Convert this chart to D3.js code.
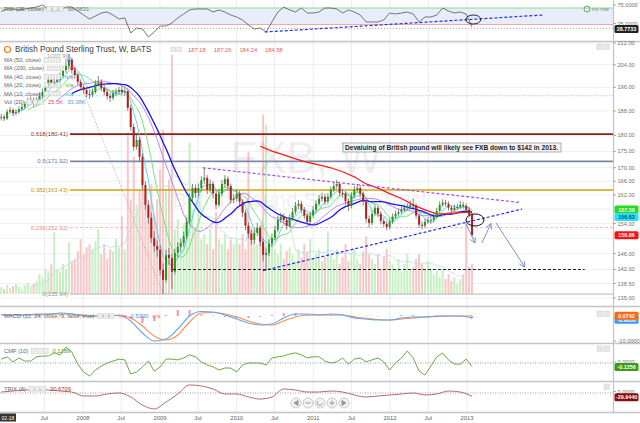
<!DOCTYPE html>
<html>
<head>
<meta charset="utf-8">
<script src="https://cdn.jsdelivr.net/npm/d3@7"></script>
<style>
body { margin: 0; background: #fff; }
svg { display: block; font-family: "Liberation Sans", Arial, sans-serif; }
</style>
</head>
<body>
<div id="chart"></div>
<script>
// ---- data (weekly chart, one bar read every 2 weeks from 8 Dec 2006) ----
var closes = [
 186.0,185.5,187.7,188.3,187.3,187.7,188.6,189.3,190.3,191.3,
 191.7,190.6,191.7,193.0,194.4,196.4,198.6,197.2,197.9,198.6,
 200.0,202.1,203.5,205.7,202.1,200.3,197.9,196.1,195.1,193.7,
 193.4,194.4,197.2,197.9,195.8,194.4,193.0,192.4,194.0,194.4,
 195.1,194.4,194.7,189.0,182.7,176.4,178.6,173.3,164.9,159.2,
 155.6,150.1,148.0,147.0,141.9,139.4,145.7,144.9,141.4,146.2,
 147.8,148.8,150.6,154.5,161.2,164.0,162.6,164.0,166.3,167.0,
 163.5,165.2,162.4,159.2,162.4,165.2,166.7,164.6,160.6,161.0,
 162.4,160.1,157.0,153.4,151.3,149.6,151.5,152.9,149.1,145.7,
 146.2,148.6,150.1,152.3,155.0,155.9,155.0,153.4,155.6,157.2,
 158.9,159.5,157.8,156.2,154.5,156.2,157.8,159.5,160.9,161.5,
 160.1,161.5,163.5,164.6,165.2,162.6,162.4,160.3,158.9,161.8,
 163.5,164.0,162.4,160.1,155.3,154.2,156.7,158.4,156.7,154.7,
 153.9,153.1,154.5,155.9,156.7,157.2,157.8,158.4,158.6,159.2,
 158.9,156.2,153.7,153.4,154.5,154.9,155.0,155.9,157.5,159.2,
 159.8,159.5,158.4,157.8,158.4,158.6,159.2,158.9,157.8,156.4,
 150.86];
var highs = [
 187.0,186.8,188.5,189.4,189.0,188.6,189.5,190.4,191.2,192.4,
 192.8,192.5,192.6,194.2,195.5,197.6,199.8,199.4,199.0,200.0,
 201.2,203.4,205.0,207.9,206.5,203.0,201.2,198.8,197.0,196.0,
 195.0,195.6,198.5,200.0,198.8,196.8,195.4,194.2,195.2,195.6,
 196.2,196.4,196.0,195.6,190.0,183.8,180.2,179.5,174.4,166.0,
 160.5,157.0,152.0,149.5,148.2,143.5,147.0,147.5,146.0,147.3,
 149.0,150.0,151.8,155.6,162.4,165.2,165.0,165.3,167.5,170.0,
 167.8,166.5,166.0,163.2,163.5,166.3,167.8,167.4,165.3,162.2,
 163.6,163.2,160.8,157.8,154.4,152.4,152.8,154.2,153.6,150.0,
 147.6,149.8,151.3,153.4,156.2,157.0,156.8,155.8,156.6,158.3,
 160.0,160.6,160.3,158.6,157.0,157.3,158.8,160.5,162.0,162.6,
 162.3,162.5,164.5,165.6,166.4,165.8,163.6,163.0,161.0,162.8,
 164.6,165.2,164.8,163.0,160.8,156.2,157.6,159.4,159.0,157.4,
 155.6,154.8,155.5,156.8,157.6,158.1,158.7,159.4,159.6,160.4,
 161.0,159.6,156.8,154.6,155.4,155.8,156.0,156.8,158.4,160.2,
 160.8,160.6,160.2,159.0,159.3,159.5,160.3,160.0,159.6,158.5,
 156.9];
var lows = [
 184.8,184.6,185.0,187.0,186.2,186.5,187.0,188.0,188.6,189.8,
 190.5,189.4,189.9,190.8,192.3,193.8,195.7,196.0,196.3,197.0,
 197.8,199.2,201.0,202.6,200.8,199.0,196.8,195.0,193.8,192.5,
 192.0,192.6,193.8,196.2,194.6,193.2,191.8,191.0,191.6,193.0,
 193.4,193.2,193.0,188.0,181.5,175.2,175.5,172.0,163.5,157.8,
 154.0,148.8,146.5,145.2,140.5,135.94,138.8,143.2,137.2,140.8,
 145.0,146.5,147.8,149.8,153.8,160.0,161.2,161.5,163.0,165.2,
 162.3,162.6,161.0,158.0,158.5,161.6,164.2,163.4,159.5,159.6,
 160.2,159.0,155.8,152.2,150.0,148.3,148.6,150.6,148.0,144.0,
 141.7,145.4,147.8,149.4,151.6,154.2,154.0,152.3,152.8,154.8,
 156.5,158.0,156.8,155.2,153.5,153.8,155.5,157.0,158.8,160.0,
 159.2,159.4,160.8,162.8,163.8,161.6,161.2,159.2,157.5,158.2,
 161.0,162.8,161.4,159.0,154.2,152.8,153.6,156.0,155.8,153.8,
 153.0,152.2,152.4,153.9,155.2,156.0,156.6,157.2,157.6,158.0,
 158.2,155.4,152.8,152.4,152.8,153.9,154.0,154.3,155.3,156.9,
 158.6,158.7,157.6,157.0,157.2,157.8,158.0,158.1,157.0,155.6,
 150.5];
// volume, thousands
var volumes = [
 7,5,9,6,8,10,7,5,9,11,7,10,13,
 20,17,25,23,30,62,25,23,30,25,52,33,35,
 43,55,40,47,50,45,53,65,
 40,50,35,45,43,55,47,78,45,
 162,95,138,90,105,
 115,100,85,110,80,95,
 125,165,105,115,240,
 65,75,55,70,
 80,152,85,65,98,
 55,60,50,65,45,82,55,50,60,45,55,50,
 55,50,60,45,143,65,
 55,50,60,180,170,
 55,50,45,40,50,35,43,47,40,33,45,37,50,42,55,35,40,45,33,37,
 63,40,35,45,30,37,50,33,40,45,35,30,43,58,40,
 35,30,40,25,37,45,33,30,25,35,23,30,40,25,27,35,40,30,25,33,
 25,20,23,17,25,15,20,13,17,10,15,20,75,
 27,30];
// MA 200 (every 4th bar from bar 88)
var ma200 = [176.6,175.1,173.9,172.7,171.6,170.9,170.0,168.8,167.3,165.2,
 164.0,162.4,161.0,159.2,157.8,156.7,156.7,157.0,157.2];
// RSI and CMF: every 2nd bar
var rsi = [
 66.5,72.6,72.6,70.2,72.6,75.0,77.4,82.3,72.6,67.7,
 70.2,77.4,77.4,67.7,58.0,48.3,55.6,62.9,65.3,58.0,
 48.3,50.8,14.4,26.5,24.1,4.7,16.8,31.4,31.4,38.6,
 50.8,60.5,70.2,72.6,72.6,72.6,65.3,70.2,65.3,58.0,
 53.2,45.9,33.8,24.1,26.5,16.8,41.1,65.3,77.4,70.2,
 65.3,75.0,62.9,62.9,65.3,75.0,75.0,72.6,62.9,70.2,
 65.3,58.0,41.1,41.1,41.1,45.9,62.9,60.5,62.9,65.3,
 60.5,41.1,53.2,53.2,58.0,75.0,67.7,62.9,65.3,60.5,
 28.7733];
var cmf = [
 0.14,0.22,0.04,0.18,0.07,0.07,0.22,0.25,0.25,0.36,
 0.29,0.57,0.39,-0.04,-0.32,-0.47,-0.25,-0.11,0,0.07,
 0.14,0.11,-0.39,-0.32,-0.14,0.07,-0.29,-0.14,0.14,0.14,
 0.11,0.18,0.29,0.22,0.04,-0.07,-0.14,-0.25,-0.18,-0.18,
 -0.32,-0.07,0,0,0,-0.07,0.18,0.22,0.25,0.32,
 0.36,0.29,0.18,0.22,0.22,0.07,0,0.04,0.18,-0.04,
 0.14,0.18,0.04,0.11,0.18,0.04,-0.25,0,0.18,0.43,
 0.18,-0.29,-0.43,-0.11,0.22,0.36,0.11,-0.04,-0.04,0.14,
 -0.1256];
// MACD, signal, TRIX: every 4th bar
var macd = [
 0.4,0.4,0.4,0.8,0.8,1.2,0.8,0,0,0,
 0.4,-2,-6.8,-10,-9.2,-5.2,0,1.8,1.6,0.4,
 -1.2,-2.8,-3.6,-3.2,-0.8,0.8,0.8,0.4,0.8,0.4,
 -0.8,-1.2,-1.6,-1.6,-0.8,-0.4,-0.4,0,0,0,
 -0.9];
var signal = [
 0.4,0.4,0.4,0.4,0.6,0.8,0.8,0.4,0,0,
 0.2,-0.8,-4,-8,-9.6,-7.6,-2.4,1.2,1.4,0.8,
 -0.4,-2,-3.2,-3.6,-2,-0.4,0.4,0.4,0.4,0.4,
 -0.4,-1,-1.4,-1.6,-1.2,-0.8,-0.4,-0.2,0,0,
 0.0742];
var trix = [
 9,18,27,27,27,18,9,-27,-27,-9,
 0,-36,-110,-145,-82,-9,73,64,36,-9,
 -9,-36,-55,-36,36,27,9,9,18,9,
 -18,-36,-27,-18,-9,0,-18,-9,18,9,
 -29.944];

// right axis ticks (158 and 150 sit under the value tags, so only gridlines)
var priceTicks = [212,204,196,188,180,175,170,166,162,154,146,142,138.5,135];
var priceGrid = [158,150];
var fibLevels = [0, 0.236, 0.382, 0.5, 0.618, 1];
var fibColors = {"0":"#b0b0b0","0.236":"#f2b4b4","0.382":"#d4a20a","0.5":"#7c88a8","0.618":"#8e1c1c"};
var fibText = {"0":"#909090","0.236":"#e58a8a","0.382":"#c49410","0.5":"#6878a0","0.618":"#8e3a3a"};

// drawn annotations (date, value)
var trendUpper = [["2009-07-24",170.0],["2013-09-05",159.9]];
var trendLower = [["2010-05-06",141.7],["2013-09-19",158.0]];
var support = [["2009-03-04",142],["2014-07-15",142]];
var arrows = [
  [["2012-12-27",154.0],["2013-02-08",148.8]],
  [["2013-03-13",148.8],["2013-04-25",154.0]],
  [["2013-05-19",154.2],["2013-10-03",142.6]]];
var circleMain = ["2013-02-08",155.0];
var rsiTrend = [["2010-05-15",16.8],["2013-12-28",58]];
var circleRsi = ["2013-01-31",47.1];
var note = "Devaluing of British pound will likely see FXB down to $142 in 2013.";

// ---- setup ----
var W = 640, H = 423, axisX = 613;
var parse = d3.timeParse("%Y-%m-%d");
var start = new Date(2006, 11, 8);
function barDate(i) { return d3.timeDay.offset(start, 14 * i); }

var x = d3.scaleTime().domain([new Date(2008,0,1), new Date(2013,0,1)]).range([83, 467]);
var y = d3.scaleLog().domain([135, 212]).range([298, 43]);
var yVol = d3.scaleLinear().domain([0, 240]).range([294, 55]);
var yRsi = d3.scaleLinear().domain([35, 75]).range([24.5, 8]);
var yMacd = d3.scaleLinear().domain([-10, 0]).range([341, 316]);
var yCmf = d3.scaleLinear().domain([-1, 1]).range([391, 335]);
var yTrix = d3.scaleLinear().domain([-200, 200]).range([415, 371]);

var bars = closes.map(function(c, i) {
  return {date: barDate(i), o: i ? closes[i-1] : c, c: c, h: highs[i], l: lows[i], v: volumes[i]};
});

function sma(arr, n) {
  return arr.map(function(v, i) { return i < n - 1 ? null : d3.mean(arr.slice(i - n + 1, i + 1)); });
}
var ma10 = sma(closes, 5), ma20 = sma(closes, 10), ma40 = sma(closes, 20), ma50 = sma(closes, 25);
var volMa = sma(volumes, 10);

var svg = d3.select("#chart").append("svg").attr("width", W).attr("height", H);
svg.append("rect").attr("width", W).attr("height", H).attr("fill", "#fff");

var defs = svg.append("defs");
function clip(id, y0, h) {
  defs.append("clipPath").attr("id", id).append("rect").attr("x", 0).attr("y", y0).attr("width", axisX).attr("height", h);
  return "url(#" + id + ")";
}
var cRsi = clip("cr", 0, 41), cMain = clip("cm", 42, 258), cMacd = clip("cmacd", 307, 36),
    cCmf = clip("ccmf", 344, 37), cTrix = clip("ctrix", 382, 30);

// vertical grid
var gridDates = d3.timeMonth.every(6).range(new Date(2007,6,1), new Date(2013,1,1));
svg.append("g").selectAll("line").data(gridDates).enter().append("line")
  .attr("x1", function(d){ return x(d); }).attr("x2", function(d){ return x(d); })
  .attr("y1", 0).attr("y2", 412).attr("stroke", "#ececec").attr("stroke-width", 1);

// ---- RSI pane ----
var gR = svg.append("g").attr("clip-path", cRsi);
gR.append("rect").attr("x", 0).attr("width", axisX).attr("y", yRsi(75)).attr("height", yRsi(35) - yRsi(75)).attr("fill", "#e7eef9");
gR.append("line").attr("x1", 0).attr("x2", axisX).attr("y1", yRsi(75)).attr("y2", yRsi(75)).attr("stroke", "#8fd88f").attr("stroke-width", 1.2);
gR.append("line").attr("x1", 0).attr("x2", axisX).attr("y1", yRsi(35)).attr("y2", yRsi(35)).attr("stroke", "#f2a6a6").attr("stroke-width", 1.2);
var rsiLast = rsi[rsi.length-1];
gR.append("line").attr("x1", 0).attr("x2", axisX).attr("y1", yRsi(rsiLast) + 1.5).attr("y2", yRsi(rsiLast) + 1.5).attr("stroke", "#aaa").attr("stroke-dasharray", "1,2");
gR.append("path").datum(rsi).attr("fill", "none").attr("stroke", "#555").attr("stroke-width", 0.8)
  .attr("d", d3.line().x(function(d, j){ return x(barDate(2*j)); }).y(function(d){ return yRsi(d); }));
gR.append("line").attr("x1", x(parse(rsiTrend[0][0]))).attr("y1", yRsi(rsiTrend[0][1]))
  .attr("x2", x(parse(rsiTrend[1][0]))).attr("y2", yRsi(rsiTrend[1][1]))
  .attr("stroke", "#2030e0").attr("stroke-width", 1.2).attr("stroke-dasharray", "3,2");
gR.append("ellipse").attr("cx", x(parse(circleRsi[0]))).attr("cy", yRsi(circleRsi[1])).attr("rx", 7.5).attr("ry", 4.5)
  .attr("fill", "none").attr("stroke", "#111").attr("stroke-width", 0.9);

// ---- main pane ----
var gM = svg.append("g").attr("clip-path", cMain);
gM.selectAll(".hg").data(priceTicks.concat(priceGrid)).enter().append("line")
  .attr("x1", 0).attr("x2", axisX).attr("y1", function(d){ return y(d); }).attr("y2", function(d){ return y(d); })
  .attr("stroke", "#efefef");
gM.append("line").attr("x1", 0).attr("x2", axisX).attr("y1", y(193.1)).attr("y2", y(193.1))
  .attr("stroke", "#a8cfe8").attr("stroke-dasharray", "1.5,1.5");

// volume
gM.selectAll(".vol").data(bars).enter().append("rect")
  .attr("x", function(d){ return x(d.date) - 1; }).attr("width", 2)
  .attr("y", function(d){ return yVol(d.v); }).attr("height", function(d){ return yVol(0) - yVol(d.v); })
  .attr("fill", function(d){ return d.c >= d.o ? "#c6efc2" : "#f8c6c6"; });
gM.append("path").datum(volMa).attr("fill", "none").attr("stroke", "#b6def0").attr("stroke-width", 0.8)
  .attr("d", d3.line().defined(function(d){ return d != null; }).x(function(d, i){ return x(barDate(i)); }).y(function(d){ return yVol(d); }));

// watermark
gM.append("text").attr("x", 306).attr("y", 173).attr("text-anchor", "middle").attr("font-size", 44)
  .attr("fill", "#000").attr("fill-opacity", 0.08).text("FXB, W");
gM.append("text").attr("x", 300).attr("y", 207).attr("text-anchor", "middle").attr("font-size", 21)
  .attr("fill", "#000").attr("fill-opacity", 0.08).text("British Pound Sterling Trust");

// fibonacci retracement
var fibLow = d3.min(lows), fibHigh = d3.max(highs);
var iHigh = highs.indexOf(fibHigh), iLow = lows.indexOf(fibLow);
gM.append("line").attr("x1", x(barDate(iHigh))).attr("y1", y(fibHigh)).attr("x2", x(barDate(iLow))).attr("y2", y(fibLow))
  .attr("stroke", "#aaa").attr("stroke-width", 0.8).attr("stroke-dasharray", "1.5,1.5");
fibLevels.forEach(function(lv) {
  var p = fibLow + (fibHigh - fibLow) * lv;
  var key = String(lv);
  if (lv < 1) {
    gM.append("line").attr("x1", 70).attr("x2", axisX).attr("y1", y(p)).attr("y2", y(p))
      .attr("stroke", fibColors[key]).attr("stroke-width", lv === 0.236 || lv === 0 ? 0.9 : 1.6)
      .attr("stroke-dasharray", lv === 0.236 ? "3,2" : null);
  }
  svg.append("text").attr("x", lv === 1 ? 70 : 68).attr("y", y(p) + (lv === 1 ? 4 : 2)).attr("text-anchor", "end")
    .attr("font-size", lv === 1 ? 5.4 : 6).attr("fill", lv === 1 ? "#999" : fibText[key])
    .text(lv + "(" + p.toFixed(2) + ")");
});

// moving averages
function maLine(arr, color, w, offset, step) {
  gM.append("path").datum(arr).attr("fill", "none").attr("stroke", color).attr("stroke-width", w)
    .attr("d", d3.line().defined(function(d){ return d != null; })
      .x(function(d, i){ return x(barDate(offset + i * step)); }).y(function(d){ return y(d); }));
}
maLine(ma10, "#45d6f0", 0.9, 0, 1);
maLine(ma20, "#6ce06c", 0.9, 0, 1);
maLine(ma40, "#b47cf0", 0.9, 0, 1);
maLine(ma50, "#1010ff", 1.3, 0, 1);
maLine(ma200, "#ff1a1a", 1.3, 88, 4);

// candles
var gC = gM.append("g");
gC.selectAll(".wick").data(bars).enter().append("line")
  .attr("x1", function(d){ return x(d.date); }).attr("x2", function(d){ return x(d.date); })
  .attr("y1", function(d){ return y(d.h); }).attr("y2", function(d){ return y(d.l); })
  .attr("stroke", "#666").attr("stroke-width", 0.8);
gC.selectAll(".body").data(bars).enter().append("rect")
  .attr("x", function(d){ return x(d.date) - 1; }).attr("width", 2)
  .attr("y", function(d){ return y(Math.max(d.o, d.c)); })
  .attr("height", function(d){ return Math.max(1, Math.abs(y(d.o) - y(d.c))); })
  .attr("fill", function(d){ return d.c >= d.o ? "#1c9e1c" : "#b81c1c"; });

// drawings
function seg(g, pts, yS, color, w, dash) {
  g.append("line").attr("x1", x(parse(pts[0][0]))).attr("y1", yS(pts[0][1]))
    .attr("x2", x(parse(pts[1][0]))).attr("y2", yS(pts[1][1]))
    .attr("stroke", color).attr("stroke-width", w).attr("stroke-dasharray", dash);
}
seg(gM, trendUpper, y, "#a050f0", 1.2, "3,2");
seg(gM, trendLower, y, "#2030e8", 1.2, "3,2");
seg(gM, support, y, "#222", 1.1, "3,2");
arrows.forEach(function(a) {
  var x1 = x(parse(a[0][0])), y1 = y(a[0][1]), x2 = x(parse(a[1][0])), y2 = y(a[1][1]);
  gM.append("line").attr("x1", x1).attr("y1", y1).attr("x2", x2).attr("y2", y2).attr("stroke", "#7a90c8").attr("stroke-width", 1);
  var ang = Math.atan2(y2 - y1, x2 - x1);
  [0.5, -0.5].forEach(function(da) {
    gM.append("line").attr("x1", x2).attr("y1", y2)
      .attr("x2", x2 - 6 * Math.cos(ang + da)).attr("y2", y2 - 6 * Math.sin(ang + da))
      .attr("stroke", "#7a90c8").attr("stroke-width", 1);
  });
});
gM.append("ellipse").attr("cx", x(parse(circleMain[0]))).attr("cy", y(circleMain[1])).attr("rx", 9).attr("ry", 6)
  .attr("fill", "none").attr("stroke", "#111").attr("stroke-width", 1);
svg.append("rect").attr("x", 343).attr("y", 143).attr("width", 218).attr("height", 9)
  .attr("fill", "#f4f4f4").attr("stroke", "#9a9a9a").attr("stroke-width", 0.8);
svg.append("text").attr("x", 345).attr("y", 150.2).attr("font-size", 6.6).attr("font-weight", "bold")
  .attr("fill", "#222").attr("textLength", 213).attr("lengthAdjust", "spacingAndGlyphs").text(note);

// ---- MACD pane ----
var gMa = svg.append("g").attr("clip-path", cMacd);
function ind(j) { return x(barDate(4 * j)); }
gMa.selectAll(".hist").data(macd).enter().append("rect")
  .attr("x", function(d, j){ return ind(j) - 1; }).attr("width", 2)
  .attr("y", function(d, j){ return Math.min(yMacd(0), yMacd(d - signal[j])); })
  .attr("height", function(d, j){ return Math.abs(yMacd(d - signal[j]) - yMacd(0)); })
  .attr("fill", "#f590b4");
var lineM = d3.line().curve(d3.curveMonotoneX).x(function(d, j){ return ind(j); }).y(function(d){ return yMacd(d); });
gMa.append("path").datum(signal).attr("fill", "none").attr("stroke", "#ff8a4a").attr("stroke-width", 1.1).attr("d", lineM);
gMa.append("path").datum(macd).attr("fill", "none").attr("stroke", "#5aa8f5").attr("stroke-width", 1.1).attr("d", lineM);

// ---- CMF pane ----
var gCm = svg.append("g").attr("clip-path", cCmf);
gCm.append("line").attr("x1", 0).attr("x2", axisX).attr("y1", yCmf(0)).attr("y2", yCmf(0)).attr("stroke", "#999").attr("stroke-dasharray", "1,1.5");
gCm.append("path").datum(cmf).attr("fill", "none").attr("stroke", "#5a9e2e").attr("stroke-width", 0.9)
  .attr("d", d3.line().x(function(d, j){ return x(barDate(2*j)); }).y(function(d){ return yCmf(d); }));

// ---- TRIX pane ----
var gT = svg.append("g").attr("clip-path", cTrix);
gT.append("line").attr("x1", 0).attr("x2", axisX).attr("y1", yTrix(0)).attr("y2", yTrix(0)).attr("stroke", "#999").attr("stroke-dasharray", "1,1.5");
gT.append("path").datum(trix).attr("fill", "none").attr("stroke", "#b05a5a").attr("stroke-width", 0.9)
  .attr("d", d3.line().curve(d3.curveMonotoneX).x(function(d, j){ return ind(j); }).y(function(d){ return yTrix(d); }));

// nav buttons
var nav = svg.append("g");
[296, 308, 320, 332, 344].forEach(function(cx, k) {
  nav.append("circle").attr("cx", cx).attr("cy", 403).attr("r", 5).attr("fill", "#f3f3f3").attr("stroke", "#bdbdbd").attr("stroke-width", 0.8);
  var p = ["M298,400.5L294,403L298,405.5Z", "M305.5,403H310.5", "M318,401A2.6,2.6 0 1 0 322.5,403", "M329.5,403H334.5M332,400.5V405.5", "M342,400.5L346,403L342,405.5Z"][k];
  nav.append("path").attr("d", p).attr("fill", k === 0 || k === 4 ? "#999" : "none").attr("stroke", "#999").attr("stroke-width", 1);
});

// ---- pane borders, right axis ----
[41.5, 306.5, 343.5, 381.5, 412.5].forEach(function(yy) {
  svg.append("line").attr("x1", 0).attr("x2", W).attr("y1", yy).attr("y2", yy).attr("stroke", "#c4c4c4").attr("stroke-width", 1.6);
});
svg.append("line").attr("x1", axisX + 0.5).attr("x2", axisX + 0.5).attr("y1", 0).attr("y2", 413).attr("stroke", "#c4c4c4").attr("stroke-width", 1.2);

var axisG = svg.append("g").attr("font-size", 5.6).attr("fill", "#707070");
function rtick(yy, label) {
  axisG.append("line").attr("x1", axisX).attr("x2", axisX + 3).attr("y1", yy).attr("y2", yy).attr("stroke", "#aaa");
  axisG.append("text").attr("x", axisX + 4.5).attr("y", yy + 2).text(label);
}
priceTicks.forEach(function(t){ rtick(y(t), t.toFixed(2)); });
rtick(5, "75.0000"); rtick(yRsi(35) - 1, "35.0000");
rtick(yMacd(-10), "-10.0000"); rtick(yCmf(0) - 1, "0.0000"); rtick(yTrix(0) - 1.5, "0.0000");

function tag(yy, label, bg, fg) {
  svg.append("rect").attr("x", axisX + 1.5).attr("y", yy - 4).attr("width", 24).attr("height", 8).attr("rx", 1.5).attr("fill", bg);
  svg.append("text").attr("x", axisX + 13.5).attr("y", yy + 2).attr("text-anchor", "middle").attr("font-size", 5.4)
    .attr("font-weight", "bold").attr("fill", fg).text(label);
}
tag(yRsi(rsiLast) + 2, rsiLast.toFixed(4), "#222", "#fff");
tag(y(ma20[ma20.length-1]) - 1, ma20[ma20.length-1].toFixed(2), "#22dd22", "#fff");
tag(y(ma10[ma10.length-1]) + 3, ma10[ma10.length-1].toFixed(2), "#22e4f4", "#1040a0");
tag(y(closes[closes.length-1]), closes[closes.length-1].toFixed(2), "#ff1010", "#fff");
tag(yMacd(macd[macd.length-1]) + 1.5, macd[macd.length-1].toFixed(4), "#3d97f5", "#fff");
tag(yMacd(signal[signal.length-1]), signal[signal.length-1].toFixed(4), "#ff6a10", "#fff");
tag(yCmf(cmf[cmf.length-1]) + 0.5, cmf[cmf.length-1].toFixed(4), "#3c9a14", "#fff");
tag(yTrix(trix[trix.length-1]) + 1, trix[trix.length-1].toFixed(4), "#8a0c0c", "#fff");

// small pane buttons
[[44, 2], [311, 2], [346, 2], [384, 1]].forEach(function(b) {
  for (var k = 0; k < b[1]; k++) {
    svg.append("rect").attr("x", 604 - k * 7).attr("y", b[0]).attr("width", 5.5).attr("height", 5.5)
      .attr("fill", "#e6e6e6").attr("stroke", "#d0d0d0").attr("stroke-width", 0.5);
  }
});
svg.append("circle").attr("cx", 587).attr("cy", 9).attr("r", 3).attr("fill", "none").attr("stroke", "#4aaa4a").attr("stroke-width", 0.9);
svg.append("text").attr("x", 592).attr("y", 10.8).attr("font-size", 4).attr("fill", "#6a8a6a").text("RSI TIME");

// x axis
var xAx = svg.append("g").attr("font-size", 5.8).attr("fill", "#606060").attr("text-anchor", "middle");
gridDates.forEach(function(d) {
  xAx.append("text").attr("x", x(d)).attr("y", 420).text(d.getMonth() === 0 ? d.getFullYear() : "Jul");
});
svg.append("rect").attr("x", 0).attr("y", 413.5).attr("width", 16).attr("height", 8).attr("fill", "#333");
svg.append("text").attr("x", 8).attr("y", 419.5).attr("text-anchor", "middle").attr("font-size", 5).attr("fill", "#fff").text("02-18");

// ---- legends ----
function icons(x0, yc, n) {
  for (var k = 0; k < n; k++) {
    svg.append("rect").attr("x", x0 + k * 6).attr("y", yc - 2.3).attr("width", 4.6).attr("height", 4.6)
      .attr("fill", "#ededed").attr("stroke", "#c8c8c8").attr("stroke-width", 0.5);
  }
  return x0 + n * 6;
}
function legendRow(yb, label, vals, size, color, xs) {
  var t = svg.append("text").attr("x", xs).attr("y", yb).attr("font-size", size).attr("fill", color).text(label);
  var xe = xs + t.node().getComputedTextLength() + 3;
  xe = icons(xe, yb - size * 0.35, 3) + 3;
  vals.forEach(function(v) {
    var tv = svg.append("text").attr("x", xe).attr("y", yb).attr("font-size", size).attr("fill", v[1]).text(v[0]);
    xe += tv.node().getComputedTextLength() + 4;
  });
}
legendRow(11, "RSI (25, close)", [["58.0831", "#777"]], 6, "#666", 4);

svg.append("circle").attr("cx", 7.5).attr("cy", 49.5).attr("r", 3).attr("fill", "none").attr("stroke", "#f07a20").attr("stroke-width", 1.2);
svg.append("text").attr("x", 15).attr("y", 52).attr("font-size", 8.2).attr("fill", "#3c3c3c").text("British Pound Sterling Trust, W, BATS");
icons(171, 49.5, 2);
["187.18", "187.26", "184.24", "184.58"].forEach(function(s, k) {
  svg.append("text").attr("x", 188 + k * 25.7).attr("y", 52).attr("font-size", 5.8).attr("fill", "#e85a5a").text(s);
});
var legendRows = [
  ["MA (50, close)", [["n/a", "#4a4aff"]]],
  ["MA (200, close)", [["n/a", "#ff3a3a"]]],
  ["MA (40, close)", [["n/a", "#a070e0"]]],
  ["MA (20, close)", [["n/a", "#40c040"]]],
  ["MA (10, close)", [["n/a", "#30c0e0"]]],
  ["Vol (20)", [["25.5K", "#e05050"], ["33.38K", "#50a0e0"]]]
];
legendRows.forEach(function(r, k) { legendRow(62 + k * 8.4, r[0], r[1], 5.8, "#666", 4); });

legendRow(318, "MACD (12, 24, close, 9, false, true)", [["n/a", "#f06090"], ["2.5300", "#4a90e0"], ["n/a", "#f08040"]], 5.8, "#666", 4);
legendRow(353, "CMF (10)", [["0.1289", "#4a9a2a"]], 5.8, "#666", 4);
legendRow(391, "TRIX (6)", [["30.6709", "#a04040"]], 5.8, "#666", 4);
</script>
</body>
</html>
